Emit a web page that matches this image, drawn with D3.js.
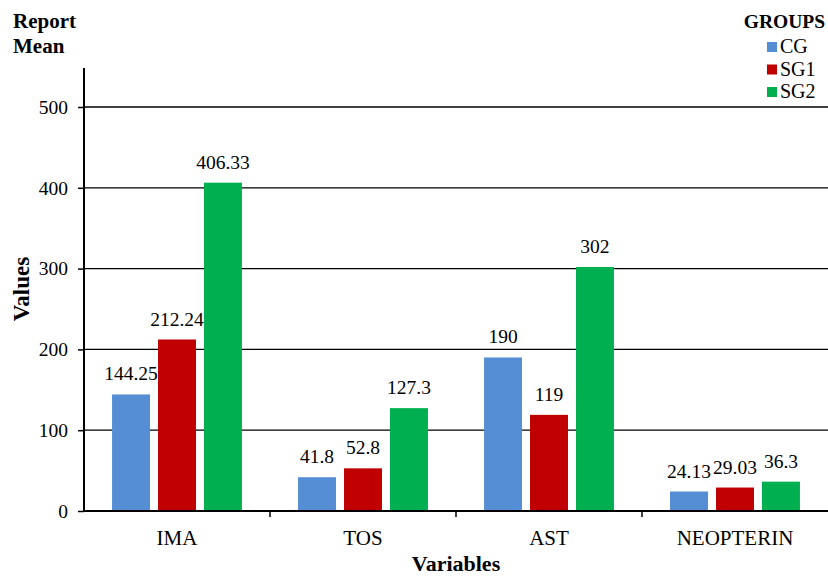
<!DOCTYPE html>
<html>
<head>
<meta charset="utf-8">
<script src="https://cdn.jsdelivr.net/npm/d3@7"></script>
<style>
  html, body { margin: 0; padding: 0; background: #fff; }
  svg { display: block; }
  svg text { font-family: "Times New Roman", "Liberation Serif", "DejaVu Serif", serif; fill: #000; }
</style>
</head>
<body>
<svg id="chart" width="828" height="577"></svg>
<script>
// Report means per variable and group
const categories = ["IMA", "TOS", "AST", "NEOPTERIN"];
const groups = ["CG", "SG1", "SG2"];
const cgValues = [144.25, 41.8, 190, 24.13];
const sg1Values = [212.24, 52.8, 119, 29.03];
const sg2Values = [406.33, 127.3, 302, 36.3];
const valueLabels = [
  ["144.25", "41.8", "190", "24.13"],
  ["212.24", "52.8", "119", "29.03"],
  ["406.33", "127.3", "302", "36.3"]
];
const yTicks = [0, 100, 200, 300, 400, 500];
const colors = ["#558ED5", "#C00000", "#00B050"];

const series = [cgValues, sg1Values, sg2Values];
const svg = d3.select("#chart");
const FONT = "Times New Roman, Liberation Serif, DejaVu Serif, serif";

const plot = { left: 84, right: 828, top: 68, bottom: 511 };

const x = d3.scaleBand().domain(categories).range([plot.left, plot.right]).paddingInner(0).paddingOuter(0);
const x1 = d3.scaleBand().domain(groups).range([0, x.bandwidth()]).paddingInner(0.174).paddingOuter(0.61);
const y = d3.scaleLinear().domain([0, 500]).range([plot.bottom, 107]);

// horizontal gridlines
svg.append("g")
  .selectAll("line")
  .data(yTicks.filter(d => d > 0))
  .join("line")
  .attr("x1", plot.left).attr("x2", plot.right)
  .attr("y1", d => y(d)).attr("y2", d => y(d))
  .attr("stroke", "#000").attr("stroke-width", 1.3);

// bars
const data = [];
categories.forEach((c, i) => groups.forEach((g, j) => data.push({ c, g, v: series[j][i], label: valueLabels[j][i], color: colors[j] })));

svg.append("g").selectAll("rect")
  .data(data)
  .join("rect")
  .attr("x", d => x(d.c) + x1(d.g))
  .attr("width", x1.bandwidth())
  .attr("y", d => y(d.v))
  .attr("height", d => y(0) - y(d.v))
  .attr("fill", d => d.color);

// value labels
svg.append("g").selectAll("text")
  .data(data)
  .join("text")
  .attr("x", d => x(d.c) + x1(d.g) + x1.bandwidth() / 2)
  .attr("y", d => y(d.v) - 14)
  .attr("text-anchor", "middle")
  .style("font-family", FONT)
  .style("font-size", "19.5px")
  .text(d => d.label);

// y axis
const yAxis = svg.append("g")
  .attr("transform", `translate(${plot.left},0)`)
  .call(d3.axisLeft(y).tickValues(yTicks).tickSize(6).tickPadding(10).tickFormat(d3.format("d")));
yAxis.select(".domain").remove();
yAxis.selectAll(".tick line").attr("stroke", "#000").attr("stroke-width", 1.5);
yAxis.selectAll(".tick text").attr("fill", "#000").style("font-family", FONT).style("font-size", "19.5px");
svg.append("line")
  .attr("x1", plot.left).attr("x2", plot.left)
  .attr("y1", plot.top).attr("y2", plot.bottom + 1)
  .attr("stroke", "#000").attr("stroke-width", 2);

// x axis
const xAxis = svg.append("g")
  .attr("transform", `translate(0,${plot.bottom})`)
  .call(d3.axisBottom(x).tickSize(0).tickPadding(19));
xAxis.select(".domain").remove();
xAxis.selectAll(".tick text").attr("fill", "#000").style("font-family", FONT).style("font-size", "21px");
svg.append("line")
  .attr("x1", plot.left - 1).attr("x2", plot.right)
  .attr("y1", plot.bottom).attr("y2", plot.bottom)
  .attr("stroke", "#000").attr("stroke-width", 2);
// category boundary ticks
svg.append("g").selectAll("line")
  .data(categories.slice(1))
  .join("line")
  .attr("x1", d => x(d)).attr("x2", d => x(d))
  .attr("y1", plot.bottom).attr("y2", plot.bottom + 6)
  .attr("stroke", "#000").attr("stroke-width", 1.5);

// titles
const title = svg.append("text").style("font-family", FONT).style("font-size", "21px").style("font-weight", "bold");
title.append("tspan").attr("x", 13).attr("y", 28).text("Report");
title.append("tspan").attr("x", 13).attr("y", 53).text("Mean");

svg.append("text")
  .attr("transform", "translate(29,289) rotate(-90)")
  .attr("text-anchor", "middle")
  .style("font-family", FONT)
  .style("font-size", "23px").style("font-weight", "bold")
  .text("Values");

svg.append("text")
  .attr("x", 456).attr("y", 571)
  .attr("text-anchor", "middle")
  .style("font-family", FONT)
  .style("font-size", "22px").style("font-weight", "bold")
  .text("Variables");

// legend
svg.append("text")
  .attr("x", 825).attr("y", 28)
  .attr("text-anchor", "end")
  .style("font-family", FONT)
  .style("font-size", "19.5px").style("font-weight", "bold")
  .text("GROUPS");

const legend = svg.append("g").selectAll("g")
  .data(groups)
  .join("g")
  .attr("transform", (d, i) => `translate(767,${42 + i * 22.5})`);
legend.append("rect").attr("width", 10).attr("height", 10).attr("fill", (d, i) => colors[i]);
legend.append("text").attr("x", 13).attr("y", 11).style("font-family", FONT).style("font-size", "20px").text(d => d);
</script>
</body>
</html>
